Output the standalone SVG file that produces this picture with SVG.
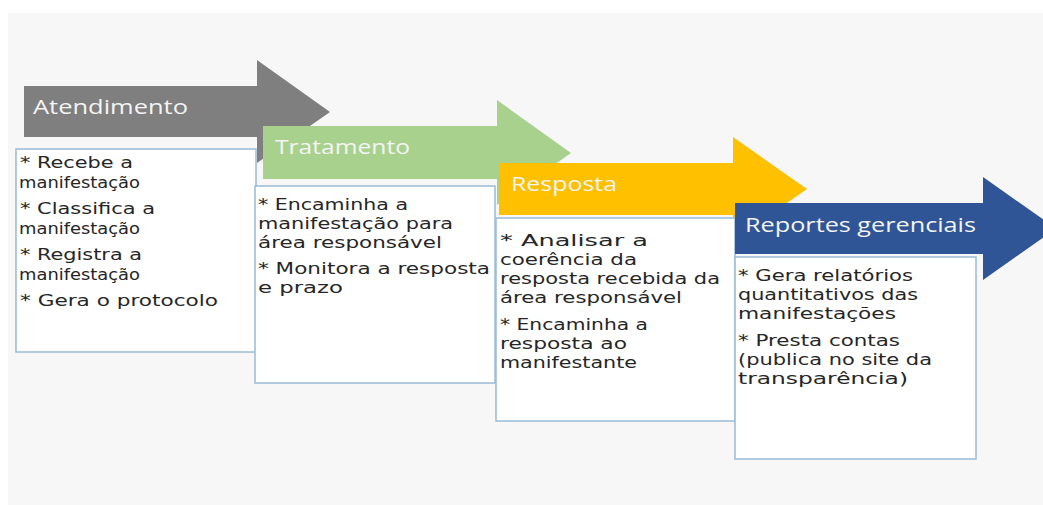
<svg xmlns="http://www.w3.org/2000/svg" width="1043" height="505" viewBox="0 0 1043 505">
<style>
.box{fill:#ffffff;stroke:#9bbbd4;stroke-width:1.5}
.head{font-family:"Open Sans","Liberation Sans",sans-serif;font-size:20px;fill:#f4f4f4}
.body{font-family:"DejaVu Sans","Liberation Sans",sans-serif;font-size:16.3px;fill:#262626}
</style>
<rect x="0" y="0" width="1043" height="505" fill="#ffffff"/>
<rect x="8" y="13" width="1035" height="492" fill="#f7f7f7"/>
<g id="connectors"></g>
<g id="atendimento">
<polygon points="24,86 257,86 257,60 330,112 257,163 257,137 24,137" fill="#7f7f7f"/>
<text class="head" x="33" y="114" textLength="155" lengthAdjust="spacingAndGlyphs">Atendimento</text>
<rect class="box" x="16" y="149" width="240" height="203"/>
<text class="body" x="20" y="168" textLength="113" lengthAdjust="spacingAndGlyphs">* Recebe a</text>
<text class="body" x="19" y="188" textLength="121" lengthAdjust="spacingAndGlyphs">manifestação</text>
<text class="body" x="20" y="214" textLength="135" lengthAdjust="spacingAndGlyphs">* Classifica a</text>
<text class="body" x="19" y="234" textLength="121" lengthAdjust="spacingAndGlyphs">manifestação</text>
<text class="body" x="20" y="260" textLength="122" lengthAdjust="spacingAndGlyphs">* Registra a</text>
<text class="body" x="19" y="280" textLength="121" lengthAdjust="spacingAndGlyphs">manifestação</text>
<text class="body" x="20" y="306" textLength="198" lengthAdjust="spacingAndGlyphs">* Gera o protocolo</text>
</g>
<g id="tratamento">
<polygon points="263,126 497,126 497,100 571,153 497,205 497,179 263,179" fill="#a9d18e"/>
<text class="head" x="275" y="154" textLength="135" lengthAdjust="spacingAndGlyphs">Tratamento</text>
<rect class="box" x="255" y="186" width="240" height="197"/>
<text class="body" x="258" y="210" textLength="150" lengthAdjust="spacingAndGlyphs">* Encaminha a</text>
<text class="body" x="258" y="229" textLength="195" lengthAdjust="spacingAndGlyphs">manifestação para</text>
<text class="body" x="258" y="248" textLength="184" lengthAdjust="spacingAndGlyphs">área responsável</text>
<text class="body" x="258" y="274" textLength="232" lengthAdjust="spacingAndGlyphs">* Monitora a resposta</text>
<text class="body" x="258" y="293" textLength="85" lengthAdjust="spacingAndGlyphs">e prazo</text>
</g>
<g id="resposta">
<polygon points="499,163 733,163 733,137 807,189 733,241 733,215 499,215" fill="#ffc000"/>
<text class="head" x="511" y="191" textLength="106" lengthAdjust="spacingAndGlyphs" fill="#fff6dc">Resposta</text>
<rect class="box" x="496" y="218" width="239" height="203"/>
<text class="body" x="500" y="246" textLength="148" lengthAdjust="spacingAndGlyphs">* Analisar a</text>
<text class="body" x="500" y="265" textLength="137" lengthAdjust="spacingAndGlyphs">coerência da</text>
<text class="body" x="500" y="284" textLength="220" lengthAdjust="spacingAndGlyphs">resposta recebida da</text>
<text class="body" x="500" y="303" textLength="182" lengthAdjust="spacingAndGlyphs">área responsável</text>
<text class="body" x="500" y="330" textLength="148" lengthAdjust="spacingAndGlyphs">* Encaminha a</text>
<text class="body" x="500" y="349" textLength="127" lengthAdjust="spacingAndGlyphs">resposta ao</text>
<text class="body" x="500" y="368" textLength="137" lengthAdjust="spacingAndGlyphs">manifestante</text>
</g>
<g id="reportes">
<polygon points="735,203 983,203 983,177 1056,228.5 983,280 983,254 735,254" fill="#2f5597"/>
<text class="head" x="745" y="232" textLength="231" lengthAdjust="spacingAndGlyphs">Reportes gerenciais</text>
<rect class="box" x="735" y="257" width="241" height="202"/>
<text class="body" x="738" y="281" textLength="175" lengthAdjust="spacingAndGlyphs">* Gera relatórios</text>
<text class="body" x="738" y="300" textLength="180" lengthAdjust="spacingAndGlyphs">quantitativos das</text>
<text class="body" x="738" y="319" textLength="158" lengthAdjust="spacingAndGlyphs">manifestações</text>
<text class="body" x="738" y="346" textLength="162" lengthAdjust="spacingAndGlyphs">* Presta contas</text>
<text class="body" x="738" y="365" textLength="194" lengthAdjust="spacingAndGlyphs">(publica no site da</text>
<text class="body" x="738" y="384" textLength="170" lengthAdjust="spacingAndGlyphs">transparência)</text>
</g>
</svg>
